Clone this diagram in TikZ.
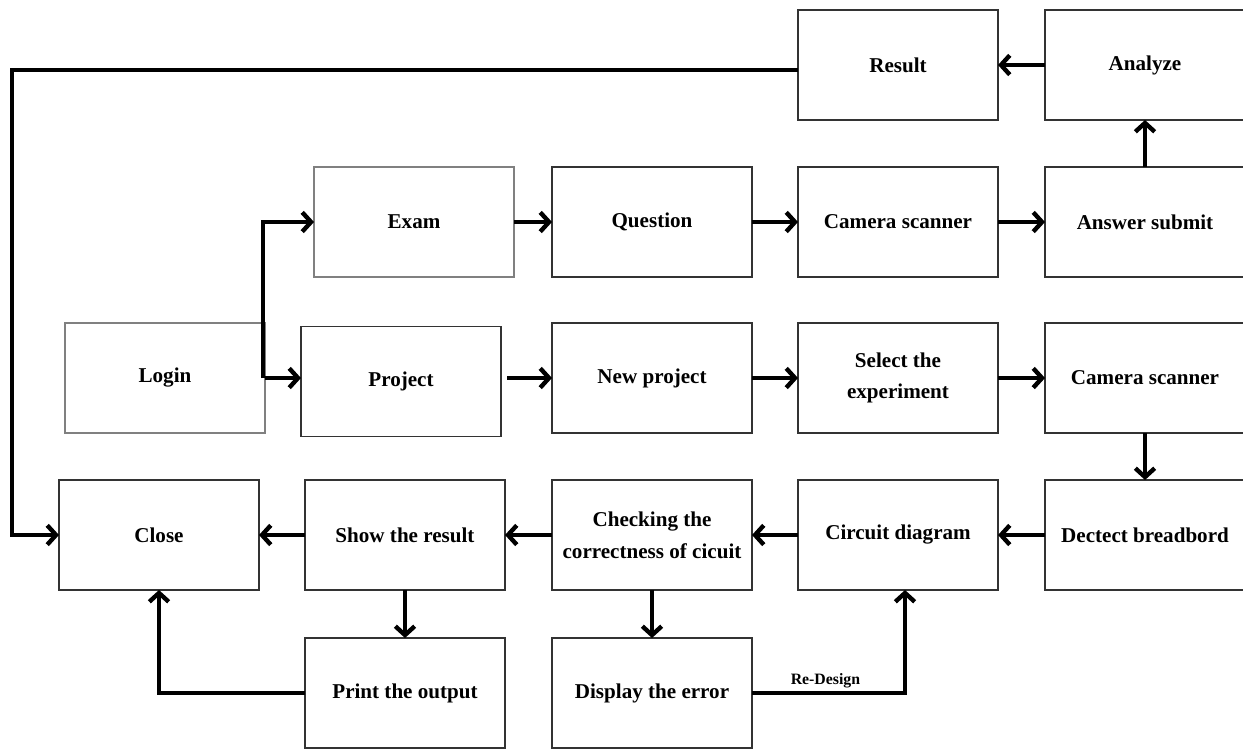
\documentclass[tikz,border=0pt]{standalone}
\usepackage{fontspec}
\setmainfont{Liberation Serif}
\usetikzlibrary{positioning, arrows.meta}
\tikzstyle{flow-box}=[
draw=black!80,
line width=0.7pt,
outer sep=0pt,
minimum width=4cm,
minimum height=2.2cm,
align=center,
font=\fontsize{12}{18}\selectfont\bfseries,
shape=rectangle,
]
\tikzstyle{flow-box-grey}=[
flow-box,
draw=gray,
]
\tikzstyle{flow-arrow}=[
line width=2.5pt,
-{Straight Barb[length=5pt,width=11pt]},
]
\begin{document}
\begin{tikzpicture}
        \useasboundingbox (0,0) rectangle (24.86,-14.98);

        \begin{scope}[every node/.style=flow-box]
          \node at (3.18,-10.70) (close) {Close};
          \node[right=0.92cm of close] (show) {Show the result};
          \node[right=0.94cm of show] (check) {Checking the\\correctness of cicuit};
          \node[right=0.92cm of check] (circuit) {Circuit diagram};
          \node[right=0.94cm of circuit] (detect) {Dectect breadbord};

          \node[below=0.96cm of show] (print) {Print the output};
          \node[below=0.96cm of check] (display) {Display the error};

          \node[above=0.94cm of check] (newproj) {New project};
          \node[above=0.94cm of circuit] (select) {Select the\\experiment};
          \node[above=0.94cm of detect] (camtwo) {Camera scanner};
          \node[left=1.02cm of newproj, yshift=-0.07cm] (project) {Project};
          \node[flow-box-grey] at (3.30,-7.56) (login) {Login};

          \node[above=0.92cm of newproj] (question) {Question};
          \node[above=0.92cm of select] (camone) {Camera scanner};
          \node[above=0.92cm of camtwo] (answer) {Answer submit};
          \node[flow-box-grey, left=0.76cm of question] (exam) {Exam};

          \node[above=0.94cm of camone] (result) {Result};
          \node[above=0.94cm of answer] (analyze) {Analyze};
        \end{scope}

        \draw[flow-arrow] (analyze) -- (result);
        \draw[flow-arrow] (answer) -- (analyze);
        \draw[flow-arrow] ([yshift=-0.1cm]result.west) -| ([xshift=-0.94cm]close.west) -- (close.west);

        \draw[flow-arrow] ([xshift=-0.04cm]login.east) |- (exam.west);
        \draw[flow-arrow] (login.east) -- (login.east -| project.west);
        \draw[flow-arrow] (exam) -- (question);
        \draw[flow-arrow] (question) -- (camone);
        \draw[flow-arrow] (camone) -- (answer);

        \draw[flow-arrow] ([xshift=0.12cm]project.east |- newproj.west) -- (newproj.west);
        \draw[flow-arrow] (newproj) -- (select);
        \draw[flow-arrow] (select) -- (camtwo);
        \draw[flow-arrow] (camtwo) -- (detect);

        \draw[flow-arrow] (detect) -- (circuit);
        \draw[flow-arrow] (circuit) -- (check);
        \draw[flow-arrow] (check) -- (show);
        \draw[flow-arrow] (show) -- (close);
        \draw[flow-arrow] (show) -- (print);
        \draw[flow-arrow] (check) -- (display);

        \draw[flow-arrow] (display.east) -| ([xshift=0.14cm]circuit.south)
          node[pos=0.24, above, inner sep=1.5pt, font=\fontsize{9}{10}\selectfont\bfseries] (redesign) {Re-Design};
        \draw[flow-arrow] (print.west) -| (close.south);
      \end{tikzpicture}
\end{document}
